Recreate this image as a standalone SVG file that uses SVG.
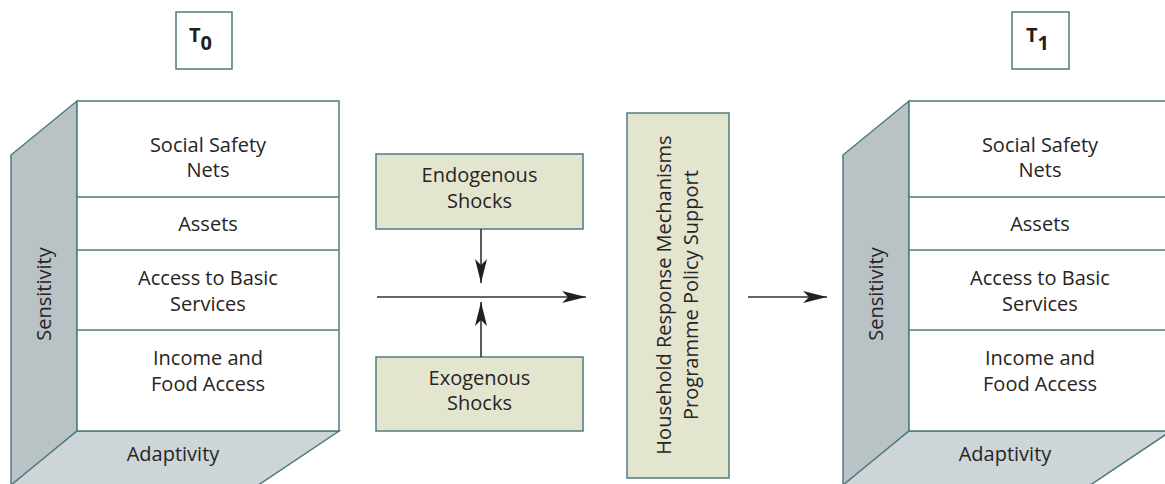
<svg xmlns="http://www.w3.org/2000/svg" width="1165" height="484" viewBox="0 0 1165 484">
  <style>
    .edge { stroke: #4d7c7f; stroke-width: 1.5; stroke-linejoin: miter; }
    .front { fill: #ffffff; }
    .side { fill: #b9c2c5; }
    .floor { fill: #cdd5d8; }
    .shock { fill: #e4e5cf; }
    .label { font-family: "Open Sans", "Noto Sans", sans-serif; font-size: 20px; fill: #262424; text-anchor: middle; }
    .time { font-family: "Open Sans", "Noto Sans", sans-serif; font-size: 20px; font-weight: bold; fill: #231f20; }
    .wire { stroke: #333333; stroke-width: 1.6; fill: none; }
  </style>
  <defs>
    <marker id="head" markerUnits="userSpaceOnUse" viewBox="-25 -7 26 14" refX="0" refY="0" markerWidth="26" markerHeight="14" orient="auto">
      <path d="M0,0 L-24,-6 L-18,0 L-24,6 Z" fill="#231f20"/>
    </marker>
    <!-- one layered livelihood block, reused at both time points -->
    <g id="block">
      <polygon class="side edge" points="77,101 11,155 11,486 77,431"/>
      <polygon class="floor edge" points="77,431 339,431 251,490 5,490"/>
      <rect class="front edge" x="77" y="101" width="262" height="330"/>
      <line class="edge" x1="77" y1="197" x2="339" y2="197"/>
      <line class="edge" x1="77" y1="250" x2="339" y2="250"/>
      <line class="edge" x1="77" y1="330" x2="339" y2="330"/>
      <text class="label" x="208" y="151.5">Social Safety</text>
      <text class="label" x="208" y="177">Nets</text>
      <text class="label" x="208" y="231">Assets</text>
      <text class="label" x="208" y="285">Access to Basic</text>
      <text class="label" x="208" y="310.5">Services</text>
      <text class="label" x="208" y="365">Income and</text>
      <text class="label" x="208" y="391">Food Access</text>
      <text class="label" x="173" y="461">Adaptivity</text>
      <text class="label" x="51" y="294" transform="rotate(-90 51 294)">Sensitivity</text>
    </g>
  </defs>

  <g id="t0">
    <rect class="front edge" x="176" y="12" width="56" height="57"/>
    <text class="time" x="189" y="42">T<tspan dy="8">0</tspan></text>
  </g>
  <g id="t1">
    <rect class="front edge" x="1012" y="12" width="57" height="57"/>
    <text class="time" x="1026" y="42">T<tspan dy="8">1</tspan></text>
  </g>

  <g id="block-t0">
    <use href="#block"/>
  </g>
  <g id="block-t1">
    <use href="#block" transform="translate(832 0)"/>
  </g>

  <g id="endogenous">
    <rect class="shock edge" x="376" y="154" width="207" height="75"/>
    <text class="label" x="479.5" y="182">Endogenous</text>
    <text class="label" x="479.5" y="207.5">Shocks</text>
  </g>
  <g id="exogenous">
    <rect class="shock edge" x="376" y="357" width="207" height="74"/>
    <text class="label" x="479.5" y="385">Exogenous</text>
    <text class="label" x="479.5" y="410">Shocks</text>
  </g>
  <g id="response">
    <rect class="shock edge" x="627" y="113" width="102" height="365"/>
    <text class="label" x="671" y="295" transform="rotate(-90 671 295)">Household Response Mechanisms</text>
    <text class="label" x="698" y="295" transform="rotate(-90 698 295)">Programme Policy Support</text>
  </g>

  <g id="connectors">
    <line class="wire" x1="377" y1="297" x2="586" y2="297" marker-end="url(#head)"/>
    <line class="wire" x1="481" y1="229" x2="481" y2="283" marker-end="url(#head)"/>
    <line class="wire" x1="481" y1="357" x2="481" y2="302" marker-end="url(#head)"/>
    <line class="wire" x1="748" y1="297" x2="827" y2="297" marker-end="url(#head)"/>
  </g>
</svg>
